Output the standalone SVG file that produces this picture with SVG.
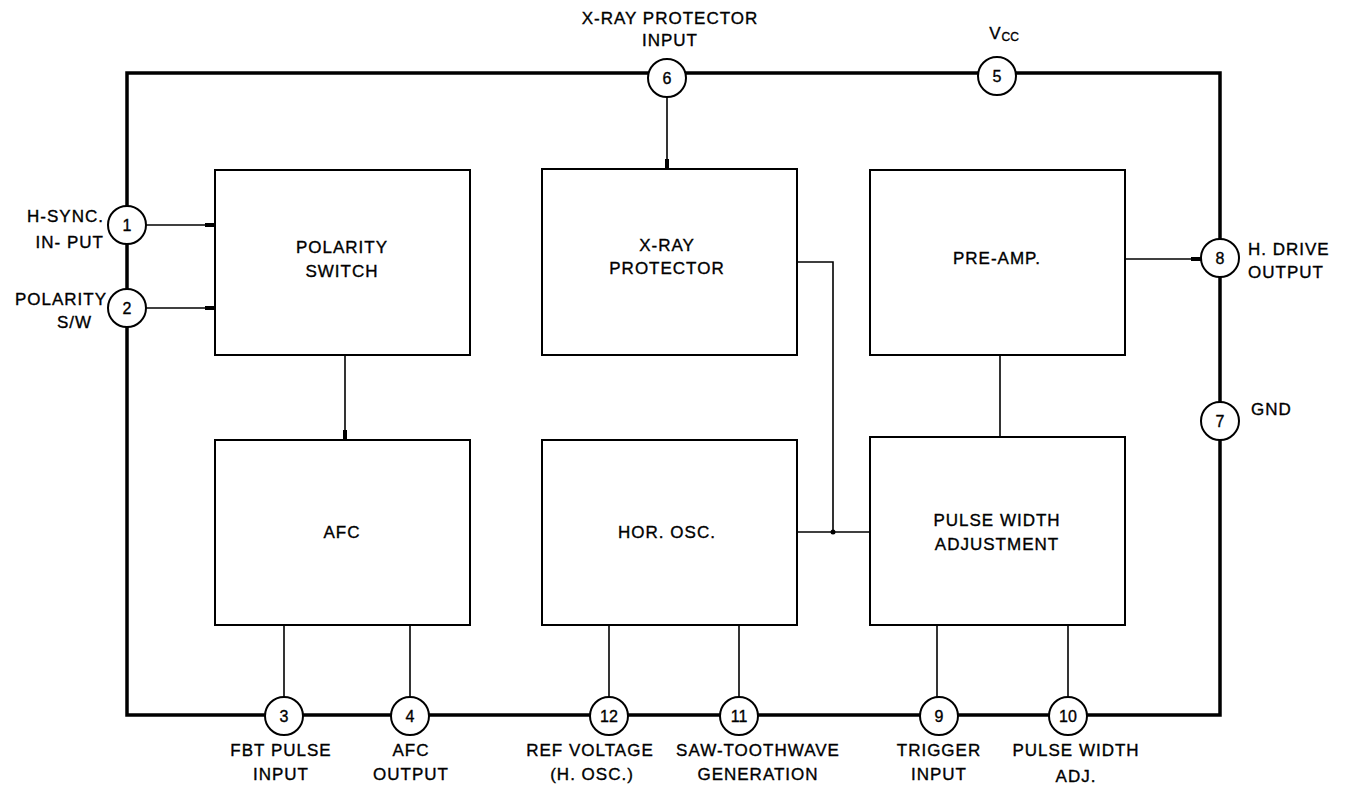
<svg xmlns="http://www.w3.org/2000/svg" width="1348" height="785" viewBox="0 0 1348 785">
<style>
.frame{fill:none;stroke:#000;stroke-width:3.5}
.box{fill:#fff;stroke:#000;stroke-width:2}
.pin{fill:#fff;stroke:#000;stroke-width:2}
.w{fill:none;stroke:#000;stroke-width:1.6}
text{font-family:"Liberation Sans",Arial,sans-serif;font-size:17px;letter-spacing:1px;fill:#000;stroke:#000;stroke-width:0.35;text-anchor:middle}
.pn{font-size:16px;letter-spacing:0}
.l{text-anchor:start}
.r{text-anchor:end}
</style>
<defs>
<marker id="tk" markerWidth="10" markerHeight="6" refX="10" refY="3" orient="auto" markerUnits="userSpaceOnUse"><rect x="0" y="1" width="10" height="4" fill="#000"/></marker>
</defs>
<rect x="0" y="0" width="1348" height="785" fill="#fff"/>
<g id="frame"><path class="frame" d="M127,73 H1220 V715 H127 Z"/></g>
<g id="connectors">
<line class="w" x1="146" y1="225" x2="215" y2="225" marker-end="url(#tk)"/>
<line class="w" x1="146" y1="308" x2="215" y2="308" marker-end="url(#tk)"/>
<line class="w" x1="667" y1="97" x2="667" y2="169" marker-end="url(#tk)"/>
<polyline class="w" points="797,262 833,262 833,532"/>
<line class="w" x1="797" y1="532" x2="870" y2="532"/>
<circle cx="833" cy="532" r="2.5" fill="#000"/>
<line class="w" x1="1000" y1="437" x2="1000" y2="355"/>
<line class="w" x1="1125" y1="259" x2="1201" y2="259" marker-end="url(#tk)"/>
<line class="w" x1="345" y1="355" x2="345" y2="440" marker-end="url(#tk)"/>
<line class="w" x1="284" y1="625" x2="284" y2="697"/>
<line class="w" x1="410" y1="625" x2="410" y2="697"/>
<line class="w" x1="609" y1="625" x2="609" y2="697"/>
<line class="w" x1="739" y1="625" x2="739" y2="697"/>
<line class="w" x1="937" y1="625" x2="937" y2="697"/>
<line class="w" x1="1068" y1="625" x2="1068" y2="697"/>
</g>
<g id="polarity-switch"><rect class="box" x="215" y="170" width="255" height="185"/><text x="342" y="253">POLARITY</text><text x="342" y="277">SWITCH</text></g>
<g id="afc"><rect class="box" x="215" y="440" width="255" height="185"/><text x="342" y="538">AFC</text></g>
<g id="xray-protector"><rect class="box" x="542" y="169" width="255" height="186"/><text x="667" y="251">X-RAY</text><text x="667" y="274">PROTECTOR</text></g>
<g id="hor-osc"><rect class="box" x="542" y="440" width="255" height="185"/><text x="667" y="538">HOR. OSC.</text></g>
<g id="pre-amp"><rect class="box" x="870" y="170" width="255" height="185"/><text x="997" y="264">PRE-AMP.</text></g>
<g id="pulse-width-adjustment"><rect class="box" x="870" y="437" width="255" height="188"/><text x="997" y="526">PULSE WIDTH</text><text x="997" y="550">ADJUSTMENT</text></g>
<g id="pin1"><circle class="pin" cx="127" cy="225" r="19"/><text class="pn" x="127" y="231">1</text><text class="r" x="104" y="222">H-SYNC.</text><text class="r" x="104" y="248">IN- PUT</text></g>
<g id="pin2"><circle class="pin" cx="127" cy="308" r="19"/><text class="pn" x="127" y="314">2</text><text class="r" x="107" y="305">POLARITY</text><text class="r" x="92" y="328">S/W</text></g>
<g id="pin6"><circle class="pin" cx="667" cy="78" r="19"/><text class="pn" x="667" y="84">6</text><text x="670" y="24">X-RAY PROTECTOR</text><text x="670" y="46">INPUT</text></g>
<g id="pin5"><circle class="pin" cx="997" cy="76" r="19"/><text class="pn" x="997" y="82">5</text><text x="1004" y="39">V<tspan font-size="12" dy="2" letter-spacing="0">CC</tspan></text></g>
<g id="pin8"><circle class="pin" cx="1220" cy="258" r="19"/><text class="pn" x="1220" y="264">8</text><text class="l" x="1248" y="255">H. DRIVE</text><text class="l" x="1248" y="278">OUTPUT</text></g>
<g id="pin7"><circle class="pin" cx="1220" cy="421" r="19"/><text class="pn" x="1220" y="427">7</text><text class="l" x="1251" y="415">GND</text></g>
<g id="pin3"><circle class="pin" cx="284" cy="716" r="19"/><text class="pn" x="284" y="722">3</text><text x="281" y="756">FBT PULSE</text><text x="281" y="780">INPUT</text></g>
<g id="pin4"><circle class="pin" cx="410" cy="716" r="19"/><text class="pn" x="410" y="722">4</text><text x="411" y="756">AFC</text><text x="411" y="780">OUTPUT</text></g>
<g id="pin12"><circle class="pin" cx="609" cy="716" r="19"/><text class="pn" x="609" y="722">12</text><text x="590" y="756">REF VOLTAGE</text><text x="592" y="780">(H. OSC.)</text></g>
<g id="pin11"><circle class="pin" cx="739" cy="716" r="19"/><text class="pn" x="739" y="722">11</text><text x="758" y="756">SAW-TOOTHWAVE</text><text x="758" y="780">GENERATION</text></g>
<g id="pin9"><circle class="pin" cx="939" cy="716" r="19"/><text class="pn" x="939" y="722">9</text><text x="939" y="756">TRIGGER</text><text x="939" y="780">INPUT</text></g>
<g id="pin10"><circle class="pin" cx="1068" cy="716" r="19"/><text class="pn" x="1068" y="722">10</text><text x="1076" y="756">PULSE WIDTH</text><text x="1076" y="782">ADJ.</text></g>
</svg>
